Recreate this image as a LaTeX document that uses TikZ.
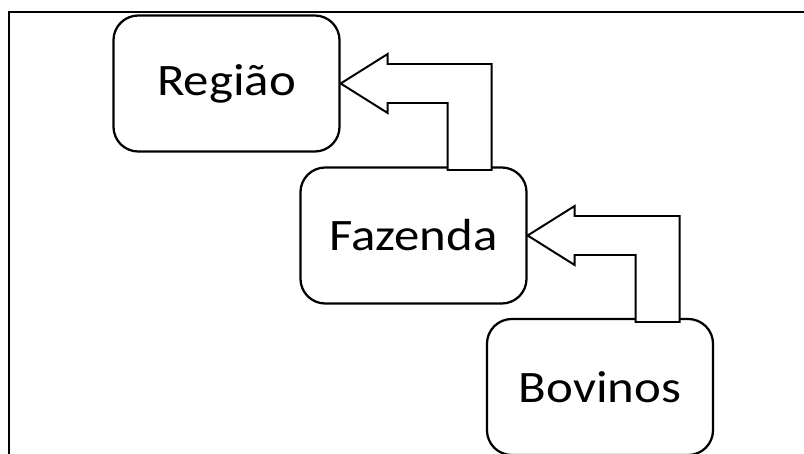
\documentclass[tikz,border=0pt]{standalone}
\usepackage{fontspec}
\setmainfont[FakeStretch=1.13]{Carlito}
\begin{document}
\begin{tikzpicture}[x=0.025cm, y=-0.025cm,
    box/.style={draw=black, line width=1.6pt, rounded corners=0.62cm, minimum width=5.65cm, minimum height=3.4cm, font=\fontsize{32}{38}\selectfont},
    bentarrow/.style={draw=black, fill=white, line width=1.4pt, line join=miter}]
    \useasboundingbox (0,0) rectangle (804,454);
    \draw[line width=0.85pt] (804,12) -- (9,12) -- (9,454);
    \node[box] (regiao) at (226.5,83.5) {Região};
    \node[box] (fazenda) at (413.5,235.5) {Fazenda};
    \node[box] (bovinos) at (600,387) {Bovinos};
    \draw[bentarrow] (regiao.east) -- ++(47,-29.5) -- ++(0,10) -- ++(104,0) -- ++(0,106) -- ++(-44,0) -- ++(0,-67) -- ++(-60,0) -- ++(0,10) -- cycle;
    \draw[bentarrow] (fazenda.east) -- ++(47,-29.5) -- ++(0,10) -- ++(105,0) -- ++(0,106) -- ++(-44,0) -- ++(0,-67) -- ++(-61,0) -- ++(0,10) -- cycle;
  \end{tikzpicture}
\end{document}
